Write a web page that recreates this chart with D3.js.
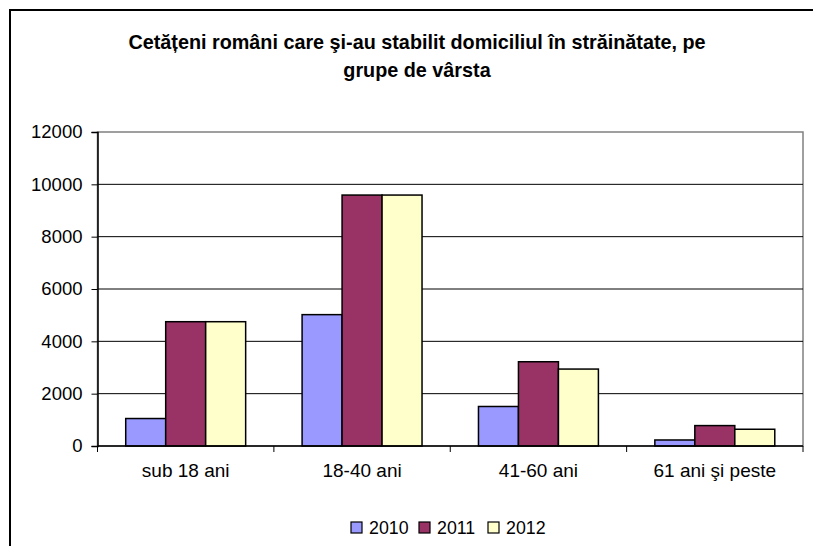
<!DOCTYPE html>
<html>
<head>
<meta charset="utf-8">
<script src="https://cdn.jsdelivr.net/npm/d3@7"></script>
<style>
  body { margin: 0; background: #fff; }
  text { font-family: "Liberation Sans", Arial, sans-serif; fill: #000; }
</style>
</head>
<body>
<script>
var svgWidth = 813;
var svgHeight = 546;

// data
var categories = ["sub 18 ani", "18-40 ani", "41-60 ani", "61 ani şi peste"];
var years = ["2010", "2011", "2012"];
var values2010 = [1050, 5020, 1510, 230];
var values2011 = [4750, 9590, 3220, 780];
var values2012 = [4750, 9590, 2940, 640];
var yTicks = [0, 2000, 4000, 6000, 8000, 10000, 12000];
var colors = ["#9999FF", "#993366", "#FFFFCC"];

var seriesValues = [values2010, values2011, values2012];

var plot = {left: 97.5, right: 803, top: 132, bottom: 446};

var svg = d3.select("body")
            .append("svg")
            .attr("width", svgWidth)
            .attr("height", svgHeight);

// chart area border (runs off the right and bottom edge)
svg.append("rect")
   .attr("x", 10).attr("y", 10)
   .attr("width", 840).attr("height", 580)
   .attr("fill", "#fff")
   .attr("stroke", "#000")
   .attr("stroke-width", 2);

// title
var title = svg.append("text")
               .attr("text-anchor", "middle")
               .attr("font-weight", "bold")
               .attr("font-size", "19.8px");
title.append("tspan").attr("x", 417).attr("y", 49)
     .text("Cetățeni români care şi-au stabilit domiciliul în străinătate, pe");
title.append("tspan").attr("x", 417).attr("y", 77)
     .text("grupe de vârsta");

var x0 = d3.scaleBand()
           .domain(categories)
           .range([plot.left, plot.right])
           .paddingInner(0.32)
           .paddingOuter(0.16);

var x1 = d3.scaleBand()
           .domain(years)
           .range([0, x0.bandwidth()]);

var y = d3.scaleLinear()
          .domain([0, 12000])
          .range([plot.bottom, plot.top]);

// plot area border
svg.append("rect")
   .attr("x", plot.left).attr("y", plot.top)
   .attr("width", plot.right - plot.left)
   .attr("height", plot.bottom - plot.top)
   .attr("fill", "none")
   .attr("stroke", "#808080")
   .attr("stroke-width", 1.5);

// gridlines
svg.append("g")
   .selectAll("line")
   .data(yTicks.filter(d => d > 0 && d < 12000))
   .enter()
   .append("line")
   .attr("x1", plot.left).attr("x2", plot.right)
   .attr("y1", d => y(d)).attr("y2", d => y(d))
   .attr("stroke", "#000")
   .attr("stroke-width", 1);

// bars
var groups = svg.append("g")
                .selectAll("g")
                .data(categories)
                .enter()
                .append("g")
                .attr("transform", d => `translate(${x0(d)},0)`);

groups.selectAll("rect")
      .data((d, i) => years.map((yr, j) => ({year: yr, value: seriesValues[j][i], idx: j})))
      .enter()
      .append("rect")
      .attr("x", d => x1(d.year))
      .attr("y", d => y(d.value))
      .attr("width", x1.bandwidth())
      .attr("height", d => y(0) - y(d.value))
      .attr("fill", d => colors[d.idx])
      .attr("stroke", "#000")
      .attr("stroke-width", 1.5);

// y axis
var leftAxis = d3.axisLeft(y)
                 .tickValues(yTicks)
                 .tickSize(6)
                 .tickPadding(9)
                 .tickFormat(d3.format("d"));

var yAxis = svg.append("g")
               .attr("transform", `translate(${plot.left},0)`)
               .call(leftAxis);
yAxis.select(".domain").attr("stroke", "#000").attr("stroke-width", 1.5);
yAxis.selectAll(".tick line").attr("stroke", "#000");
yAxis.selectAll("text")
     .attr("font-size", "18.5px")
     .attr("font-family", "Liberation Sans, Arial, sans-serif")
     .attr("fill", "#000");

// x axis: ticks at category boundaries
var bottomAxis = d3.axisBottom(x0).tickSize(0).tickPadding(18);
var xAxis = svg.append("g")
               .attr("transform", `translate(0,${plot.bottom})`)
               .call(bottomAxis);
xAxis.select(".domain").remove();
xAxis.selectAll("text")
     .attr("font-size", "19px")
     .attr("font-family", "Liberation Sans, Arial, sans-serif")
     .attr("fill", "#000");

var step = x0.step();
var boundaries = d3.range(categories.length + 1).map(i => plot.left + i * step);
svg.append("line")
   .attr("x1", plot.left).attr("x2", plot.right)
   .attr("y1", plot.bottom).attr("y2", plot.bottom)
   .attr("stroke", "#000").attr("stroke-width", 1.5);
svg.append("g")
   .selectAll("line")
   .data(boundaries)
   .enter()
   .append("line")
   .attr("x1", d => d).attr("x2", d => d)
   .attr("y1", plot.bottom).attr("y2", plot.bottom + 6)
   .attr("stroke", "#000");

// legend
var legendX = [351, 419, 488];
var legend = svg.append("g")
                .selectAll("g")
                .data(years)
                .enter()
                .append("g")
                .attr("transform", (d, i) => `translate(${legendX[i]},522)`);
legend.append("rect")
      .attr("width", 11).attr("height", 11)
      .attr("fill", (d, i) => colors[i])
      .attr("stroke", "#000")
      .attr("stroke-width", 1.2);
legend.append("text")
      .attr("x", 18).attr("y", 12)
      .attr("font-size", "17.8px")
      .text(d => d);
</script>
</body>
</html>
